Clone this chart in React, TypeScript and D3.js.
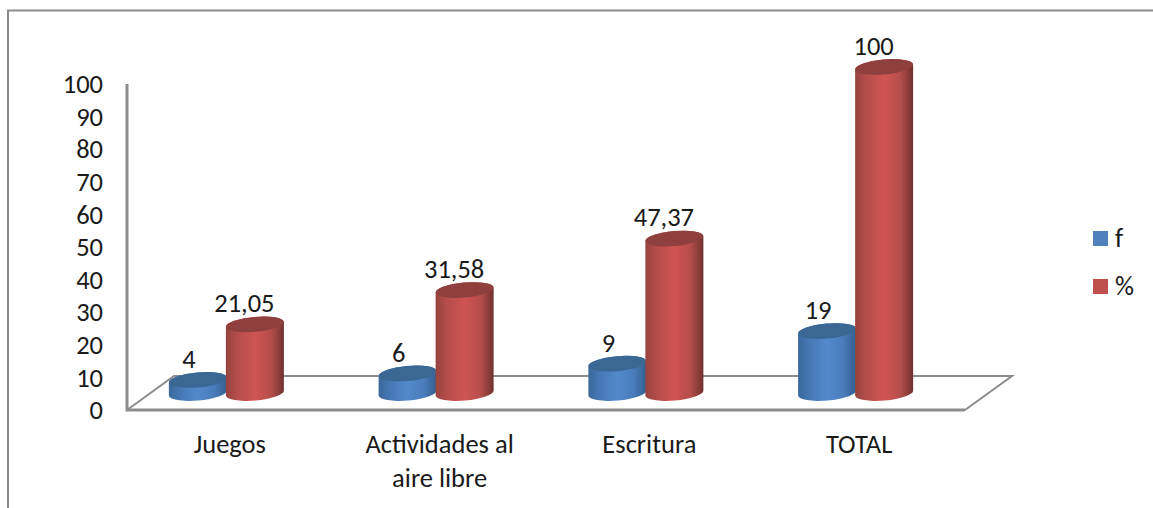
import React from "react";
import * as d3 from "d3";

const categories = ["Juegos", "Actividades al|aire libre", "Escritura", "TOTAL"];
const seriesNames = ["f", "%"];
const fValues = [4, 6, 9, 19];
const pctValues = [21.05, 31.58, 47.37, 100];
const fLabels = ["4", "6", "9", "19"];
const pctLabels = ["21,05", "31,58", "47,37", "100"];
const yTicks = [0, 10, 20, 30, 40, 50, 60, 70, 80, 90, 100];

const W = 1153;
const H = 508;
const FONT = "Carlito, Lato, 'Open Sans', sans-serif";
const FONT_SIZE = 26.5;
const GREY = "#8c8c8c";

// Axis plane and floor outline
const axisX = 127;
const floorFront = 410;
const floorBack = 376;
const floorRight = 965;
const depthX = 47;

const tickScale = d3.scaleLinear().domain([0, 100]).range([410, 84]);
const barScale = d3.scaleLinear().domain([0, 100]).range([393, 67]);
const groupScale = d3.scaleBand().domain(categories).range([121, 960]);

const RX = 29;
const RY = 7.5;
const TILT = -5;

const tiltDy = RX * Math.sin((-TILT * Math.PI) / 180);

// Side wall of a cylinder: left edge down, front of the base ellipse, right edge up, back over the top
function cylinderBody(cx: number, top: number, base: number) {
  const l = cx - RX;
  const r = cx + RX;
  return (
    `M${l},${top + tiltDy} L${l},${base + tiltDy} ` +
    `A${RX},${RY} ${TILT} 0 0 ${r},${base - tiltDy} ` +
    `L${r},${top - tiltDy} ` +
    `A${RX},${RY} ${TILT} 0 0 ${l},${top + tiltDy} Z`
  );
}

function Cylinder({ cx, value, colour }: { cx: number; value: number; colour: string }) {
  const top = barScale(value);
  return (
    <g>
      <path d={cylinderBody(cx, top, barScale(0))} fill={`url(#grad-${colour})`} />
      <ellipse
        cx={cx}
        cy={top}
        rx={RX}
        ry={RY}
        transform={`rotate(${TILT} ${cx} ${top})`}
        fill={colour === "blue" ? "#3b6795" : "#8f3f3d"}
      />
    </g>
  );
}

function Gradient({ id, stops }: { id: string; stops: [number, string][] }) {
  return (
    <linearGradient id={id} x1="0" x2="1" y1="0" y2="0">
      {stops.map(([o, c]) => (
        <stop key={o} offset={o} stopColor={c} />
      ))}
    </linearGradient>
  );
}

export default function App() {
  const text = { fontFamily: FONT, fill: "#1a1a1a" };
  return (
    <svg width={W} height={H} style={{ position: "absolute", left: 0, top: 0, background: "#fff" }}>
      <defs>
        <Gradient
          id="grad-blue"
          stops={[
            [0, "#3a689c"],
            [0.2, "#4678b4"],
            [0.5, "#5389cc"],
            [0.78, "#4a7cba"],
            [1, "#345e8f"],
          ]}
        />
        <Gradient
          id="grad-red"
          stops={[
            [0, "#97433f"],
            [0.2, "#b54d4b"],
            [0.5, "#cf5553"],
            [0.78, "#b54d4b"],
            [0.92, "#8a3c3a"],
            [1, "#6e302e"],
          ]}
        />
      </defs>

      {/* Outer frame: only the top and left edges are visible */}
      <path d={`M${W},10.5 L8,10.5 L8,${H}`} fill="none" stroke={GREY} strokeWidth={2} />

      {/* Far edges of the floor are drawn thinner than the axis wall and front edge */}
      <path
        d={`M${axisX},${floorFront} L${axisX + depthX},${floorBack} L${floorRight + depthX},${floorBack} L${floorRight},${floorFront}`}
        fill="none"
        stroke={GREY}
        strokeWidth={2}
      />
      <path
        d={`M${axisX},${tickScale(100)} L${axisX},${floorFront} L${floorRight},${floorFront}`}
        fill="none"
        stroke={GREY}
        strokeWidth={3}
      />

      {yTicks.map((t) => (
        <text key={t} x={103} y={tickScale(t)} dy="0.35em" textAnchor="end" fontSize={FONT_SIZE} style={text}>
          {t}
        </text>
      ))}

      {categories.map((c, i) => {
        const cx = groupScale(c)! + groupScale.bandwidth() / 2;
        return (
          <g key={c}>
            <Cylinder cx={cx - 28} value={fValues[i]} colour="blue" />
            <Cylinder cx={cx + 29} value={pctValues[i]} colour="red" />
            <text x={cx - 37} y={barScale(fValues[i]) - 21} dy="0.35em" textAnchor="middle" fontSize={FONT_SIZE} style={text}>
              {fLabels[i]}
            </text>
            <text x={cx + 18.5} y={barScale(pctValues[i]) - 21.5} dy="0.35em" textAnchor="middle" fontSize={FONT_SIZE} style={text}>
              {pctLabels[i]}
            </text>
            {c.split("|").map((line, j) => (
              <text key={line} x={cx + 4} y={444 + j * 33.5} dy="0.35em" textAnchor="middle" fontSize={FONT_SIZE} style={text}>
                {line}
              </text>
            ))}
          </g>
        );
      })}

      {seriesNames.map((s, i) => (
        <g key={s}>
          <rect x={1093} y={231 + i * 48} width={15} height={15} fill={i === 0 ? "#4f81bd" : "#c0504d"} />
          <text x={1115} y={238 + i * 48} dy="0.35em" fontSize={FONT_SIZE} style={text}>
            {s}
          </text>
        </g>
      ))}
    </svg>
  );
}
